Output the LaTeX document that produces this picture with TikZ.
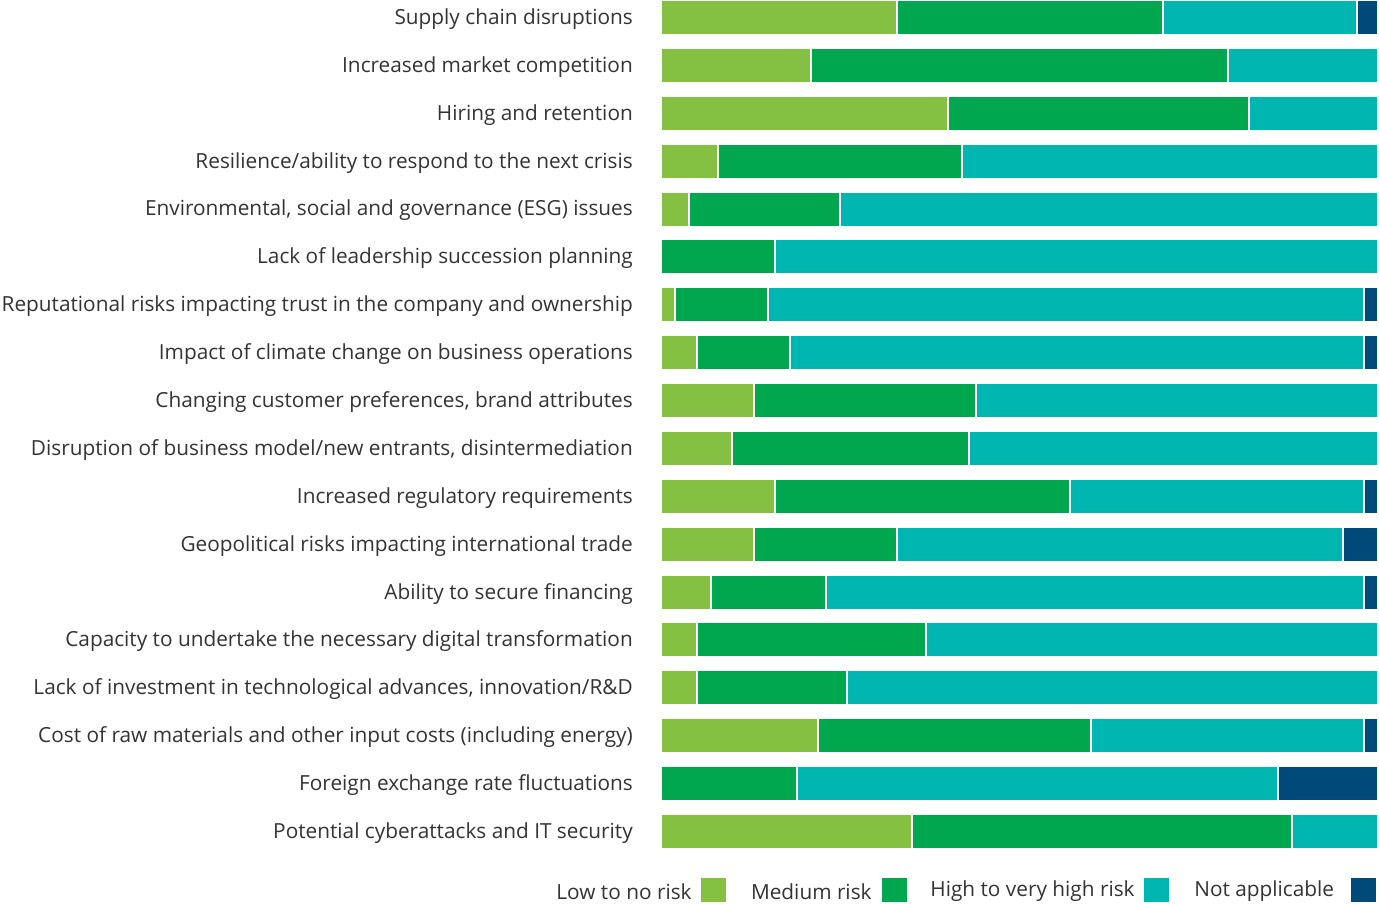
\documentclass[tikz,border=0pt]{standalone}
\usepackage{fontspec}
\setmainfont{Open Sans}
\usepackage{xcolor}
\usepackage{tikz}
\usetikzlibrary{positioning,calc}

\definecolor{lowrisk}{HTML}{84C142}
\definecolor{medrisk}{HTML}{00A74F}
\definecolor{highrisk}{HTML}{00B6B0}
\definecolor{notappl}{HTML}{004A7A}

\tikzset{
  seg/.style={draw=white, line width=1.5pt},
  lab/.style={anchor=east, inner sep=0pt, text=black!80, font=\fontsize{20.8}{24}\selectfont},
  legsq/.style={minimum width=25pt, minimum height=24pt, inner sep=0pt},
  legtxt/.style={inner sep=0pt, text=black!80, font=\fontsize{20.8}{24}\selectfont}
}

\begin{document}
\begin{tikzpicture}[x=1pt,y=-1pt]
\useasboundingbox (0,0) rectangle (1379,903);
% one row per risk: end of low, end of medium, end of high
\foreach \lab/\a/\b/\c [count=\i from 0] in {
  {Supply chain disruptions}/897/1163/1357,
  {Increased market competition}/811/1228/1378,
  {Hiring and retention}/948/1249/1378,
  {Resilience/ability to respond to the next crisis}/718/962/1378,
  {Environmental, social and governance (ESG) issues}/689/840/1378,
  {Lack of leadership succession planning}/661/775/1378,
  {Reputational risks impacting trust in the company and ownership}/675/768/1364,
  {Impact of climate change on business operations}/697/790/1364,
  {Changing customer preferences, brand attributes}/754/976/1378,
  {Disruption of business model/new entrants, disintermediation}/732/969/1378,
  {Increased regulatory requirements}/775/1070/1364,
  {Geopolitical risks impacting international trade}/754/897/1343,
  {Ability to secure financing}/711/826/1364,
  {Capacity to undertake the necessary digital transformation}/697/926/1378,
  {Lack of investment in technological advances, innovation/R\&D}/697/847/1378,
  {Cost of raw materials and other input costs (including energy)}/818/1091/1364,
  {Foreign exchange rate fluctuations}/661/797/1278,
  {Potential cyberattacks and IT security}/912/1292/1378}{
  \pgfmathsetmacro{\ytop}{1+\i*47.88}
  \pgfmathsetmacro{\ybot}{\ytop+33}
  \pgfmathsetmacro{\ymid}{\ytop+18}
  \node[lab] (lab\i) at (633,\ymid) {\lab};
  \fill[lowrisk] (661,\ytop) rectangle (\a,\ybot);
  \fill[medrisk] (\a,\ytop) rectangle (\b,\ybot);
  \fill[highrisk] (\b,\ytop) rectangle (\c,\ybot);
  \fill[notappl] (\c,\ytop) rectangle (1378,\ybot);
  \draw[seg] (\a,\ytop) -- (\a,\ybot) (\b,\ytop) -- (\b,\ybot) (\c,\ytop) -- (\c,\ybot);
  \draw[seg] (661,\ytop) -- (661,\ybot) (1378,\ytop) -- (1378,\ybot);
}
% legend
\node[legsq, fill=lowrisk] (sqlow) at (713.5,890) {};
\node[legtxt, left=9pt of sqlow, yshift=-1.5pt] (txlow) {Low to no risk};
\node[legsq, fill=medrisk] (sqmed) at (894.5,890) {};
\node[legtxt, left=10pt of sqmed, yshift=-1.5pt] (txmed) {Medium risk};
\node[legsq, fill=highrisk] (sqhigh) at (1156.5,890) {};
\node[legtxt, left=9pt of sqhigh, yshift=-1.5pt] (txhigh) {High to very high risk};
\node[legsq, fill=notappl] (sqna) at (1363,890) {};
\node[legtxt, left=16pt of sqna, yshift=-1.5pt] (txna) {Not applicable};
\end{tikzpicture}
\end{document}
